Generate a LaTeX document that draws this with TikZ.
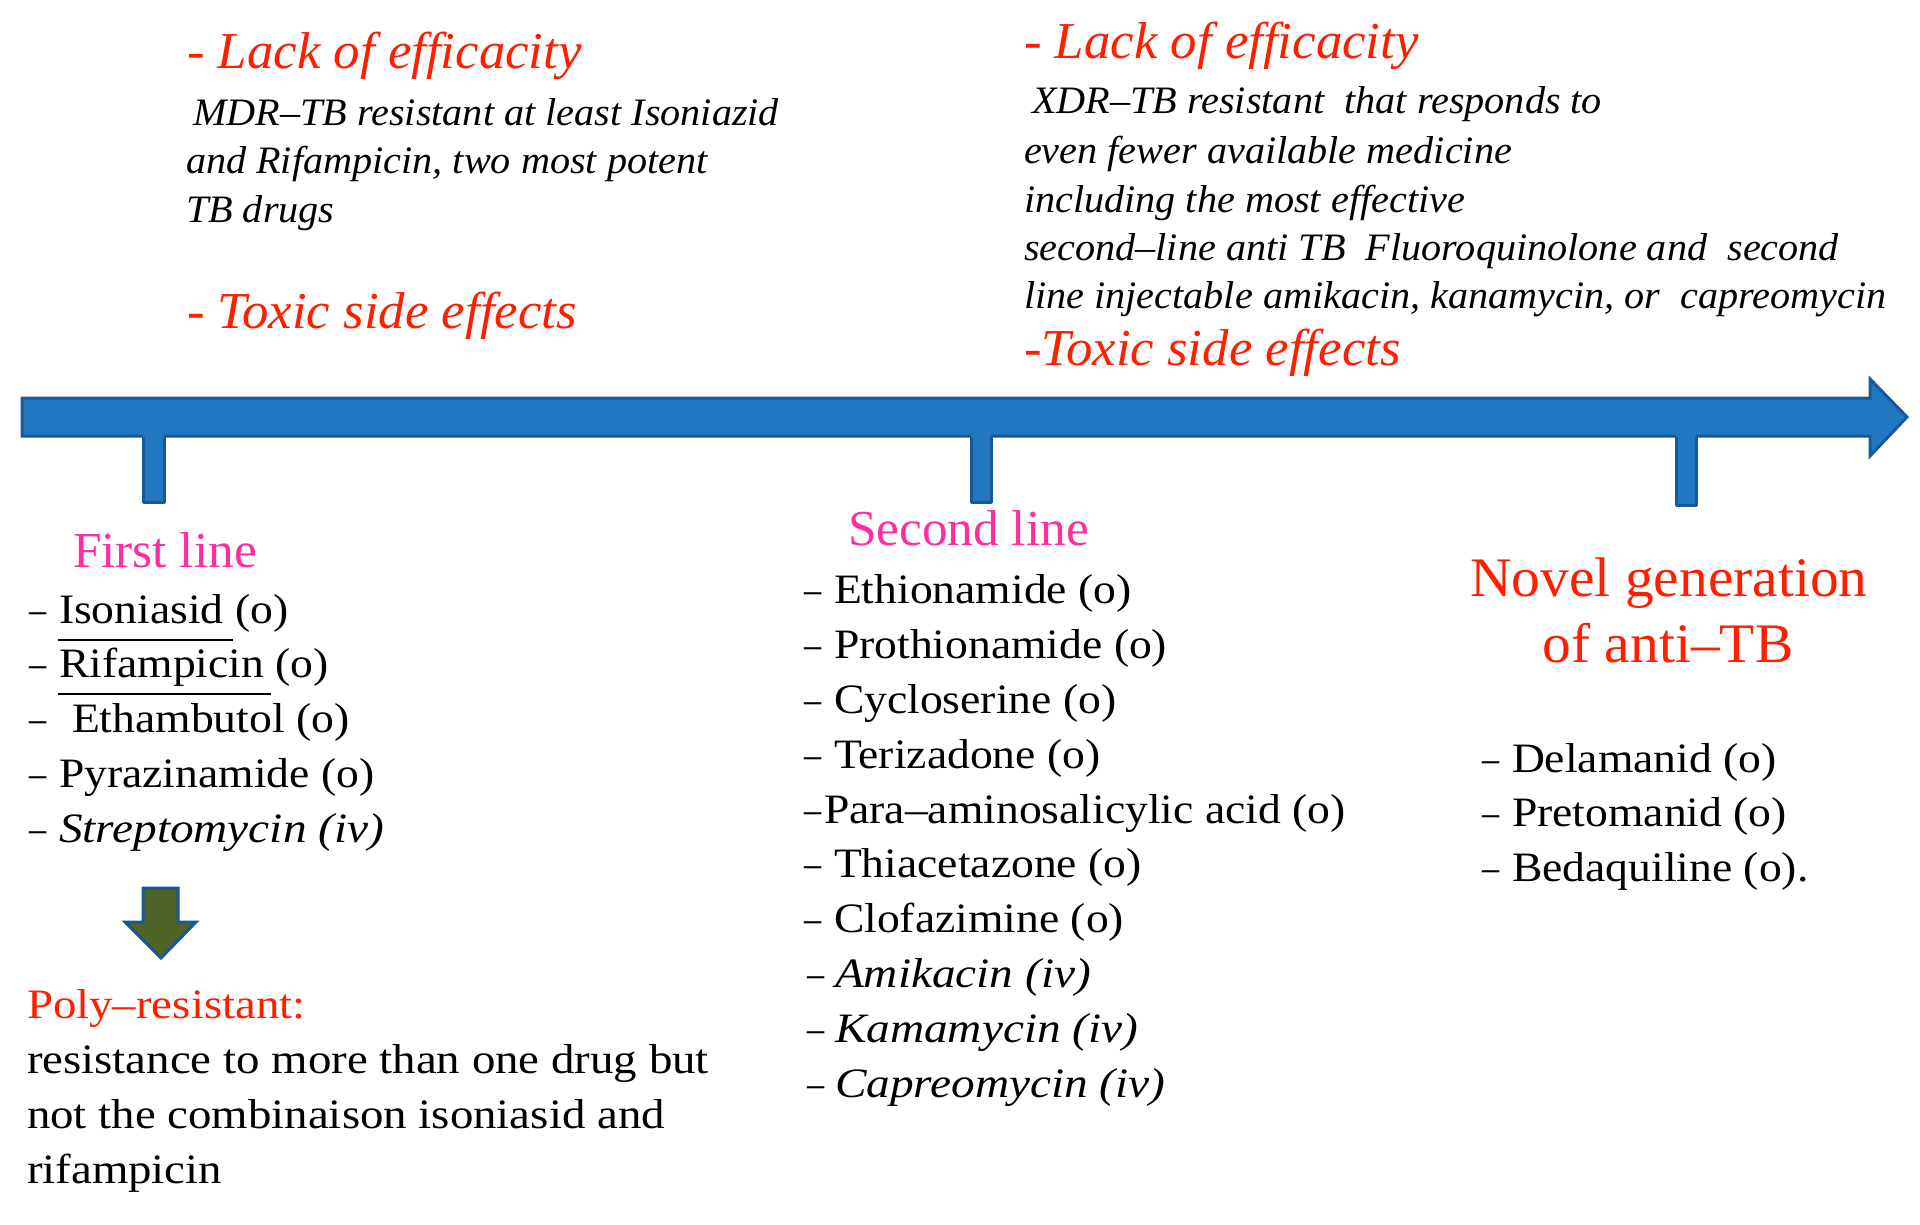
\documentclass[tikz,border=0pt]{standalone}
\usepackage{fontspec}
\setmainfont{Liberation Serif}
\newfontfamily\listfont[FakeStretch=1.09,Ligatures=TeX]{Liberation Serif}
\newfontfamily\listitfont[FakeStretch=1.13,Ligatures=TeX]{Liberation Serif}
\newfontfamily\polyfont[FakeStretch=1.12,Ligatures=TeX]{Liberation Serif}
\newfontfamily\notefont[FakeStretch=1.035,Ligatures=TeX]{Liberation Serif}
\newfontfamily\headfont[FakeStretch=1.02,Ligatures=TeX]{Liberation Serif}
\newfontfamily\novelfont[FakeStretch=1.03,Ligatures=TeX]{Liberation Serif}
\definecolor{barblue}{RGB}{33,120,193}
\definecolor{barline}{RGB}{25,88,152}
\definecolor{txtred}{RGB}{255,30,0}
\definecolor{txtpink}{RGB}{255,45,160}
\definecolor{arrowolive}{RGB}{79,98,40}
\newcommand{\itl}[1]{{\listitfont\itshape #1}}
\newcommand{\dd}[1]{\makebox[#1bp][l]{\scalebox{0.75}[1]{–}}}
\begin{document}
\begin{tikzpicture}[x=1bp,y=-1bp,
  txt/.style={anchor=base west, inner sep=0pt, outer sep=0pt},
  body/.style={txt, font=\listfont\fontsize{42}{50}\selectfont},
  polytext/.style={txt, font=\polyfont\fontsize{42}{50}\selectfont},
  note/.style={txt, font=\notefont\fontsize{39}{46}\selectfont\itshape},
  headred/.style={txt, font=\headfont\fontsize{52}{60}\selectfont\itshape, text=txtred},
  pinkhead/.style={txt, font=\headfont\fontsize{50.5}{60}\selectfont, text=txtpink},
  novel/.style={anchor=base, inner sep=0pt, font=\novelfont\fontsize{56}{64}\selectfont, text=txtred},
  tickline/.style={draw=barline, line width=3bp, line join=round},
  ul/.style={draw=black, line width=2.5bp}
]
\useasboundingbox[fill=white] (0,0) rectangle (1920,1224);

% main timeline arrow
\draw[fill=barblue, draw=barline, line width=3bp, line join=miter]
  (22,398) -- (1870,398) -- (1870,379) -- (1907,417) -- (1870,456) -- (1870,436) -- (22,436) -- cycle;
% ticks
\foreach \xa/\xb/\yb in {143/164/502, 971/991/502, 1676/1696/505}{
  \fill[barblue] (\xa,431) rectangle (\xb,\yb);
  \draw[tickline] (\xa,437) -- (\xa,\yb) -- (\xb,\yb) -- (\xb,437);
}

% top-left notes
\node[headred] (lack1) at (187,68) {- Lack of efficacity};
\node[note] (mdr1) at (193,125) {MDR–TB resistant at least Isoniazid};
\node[note] (mdr2) at (186,173) {and Rifampicin, two most potent};
\node[note] (mdr3) at (186,222) {TB drugs};
\node[headred] (tox1) at (187,328) {- Toxic side effects};

% top-right notes
\node[headred] (lack2) at (1024,58) {- Lack of efficacity};
\node[note] (xdr1) at (1032,113) {XDR–TB resistant~~that responds to};
\node[note] (xdr2) at (1024,163) {even fewer available medicine};
\node[note] (xdr3) at (1024,212) {including the most effective};
\node[note] (xdr4) at (1024,260) {second–line anti TB~~Fluoroquinolone and~~second};
\node[note] (xdr5) at (1024,308) {line injectable amikacin, kanamycin, or~~capreomycin};
\node[headred] (tox2) at (1024,365) {-Toxic side effects};

% first line
\node[pinkhead] (first) at (73,567) {First line};
\node[body] (f1) at (29,623) {\dd{30}Isoniasid (o)};
\node[body] (f2) at (29,677) {\dd{30}Rifampicin (o)};
\node[body] (f3) at (29,732) {\dd{43}Ethambutol (o)};
\node[body] (f4) at (29,787) {\dd{30}Pyrazinamide (o)};
\node[body] (f5) at (29,842) {\dd{30}\itl{Streptomycin (iv)}};
\draw[ul] (58,640) -- (233,640);
\draw[ul] (58,694) -- (271,694);

% green down arrow
\draw[fill=arrowolive, draw=barline, line width=3bp, line join=miter]
  (143,888) -- (178,888) -- (178,922) -- (196,922) -- (161,958) -- (125,922) -- (143,922) -- cycle;

\node[polytext, text=txtred] (poly) at (27,1018) {Poly–resistant:};
\node[polytext] (p1) at (27,1073) {resistance to more than one drug but};
\node[polytext] (p2) at (27,1128) {not the combinaison isoniasid and};
\node[polytext] (p3) at (27,1183) {rifampicin};

% second line
\node[pinkhead] (second) at (848,545) {Second line};
\node[body] (s1) at (804,603) {\dd{30}Ethionamide (o)};
\node[body] (s2) at (804,658) {\dd{30}Prothionamide (o)};
\node[body] (s3) at (804,713) {\dd{30}Cycloserine (o)};
\node[body] (s4) at (804,768) {\dd{30}Terizadone (o)};
\node[body] (s5) at (804,823) {\dd{20}Para–aminosalicylic acid (o)};
\node[body] (s6) at (804,877) {\dd{30}Thiacetazone (o)};
\node[body] (s7) at (804,932) {\dd{30}Clofazimine (o)};
\node[body] (s8) at (807,987) {\dd{28}\itl{Amikacin (iv)}};
\node[body] (s9) at (807,1042) {\dd{28}\itl{Kamamycin (iv)}};
\node[body] (s10) at (807,1097) {\dd{28}\itl{Capreomycin (iv)}};

% novel generation
\node[novel] (nov1) at (1669,596) {Novel generation};
\node[novel] (nov2) at (1668,662) {of anti–TB};
\node[body] (n1) at (1482,772) {\dd{30}Delamanid (o)};
\node[body] (n2) at (1482,826) {\dd{30}Pretomanid (o)};
\node[body] (n3) at (1482,881) {\dd{30}Bedaquiline (o).};
\end{tikzpicture}
\end{document}
